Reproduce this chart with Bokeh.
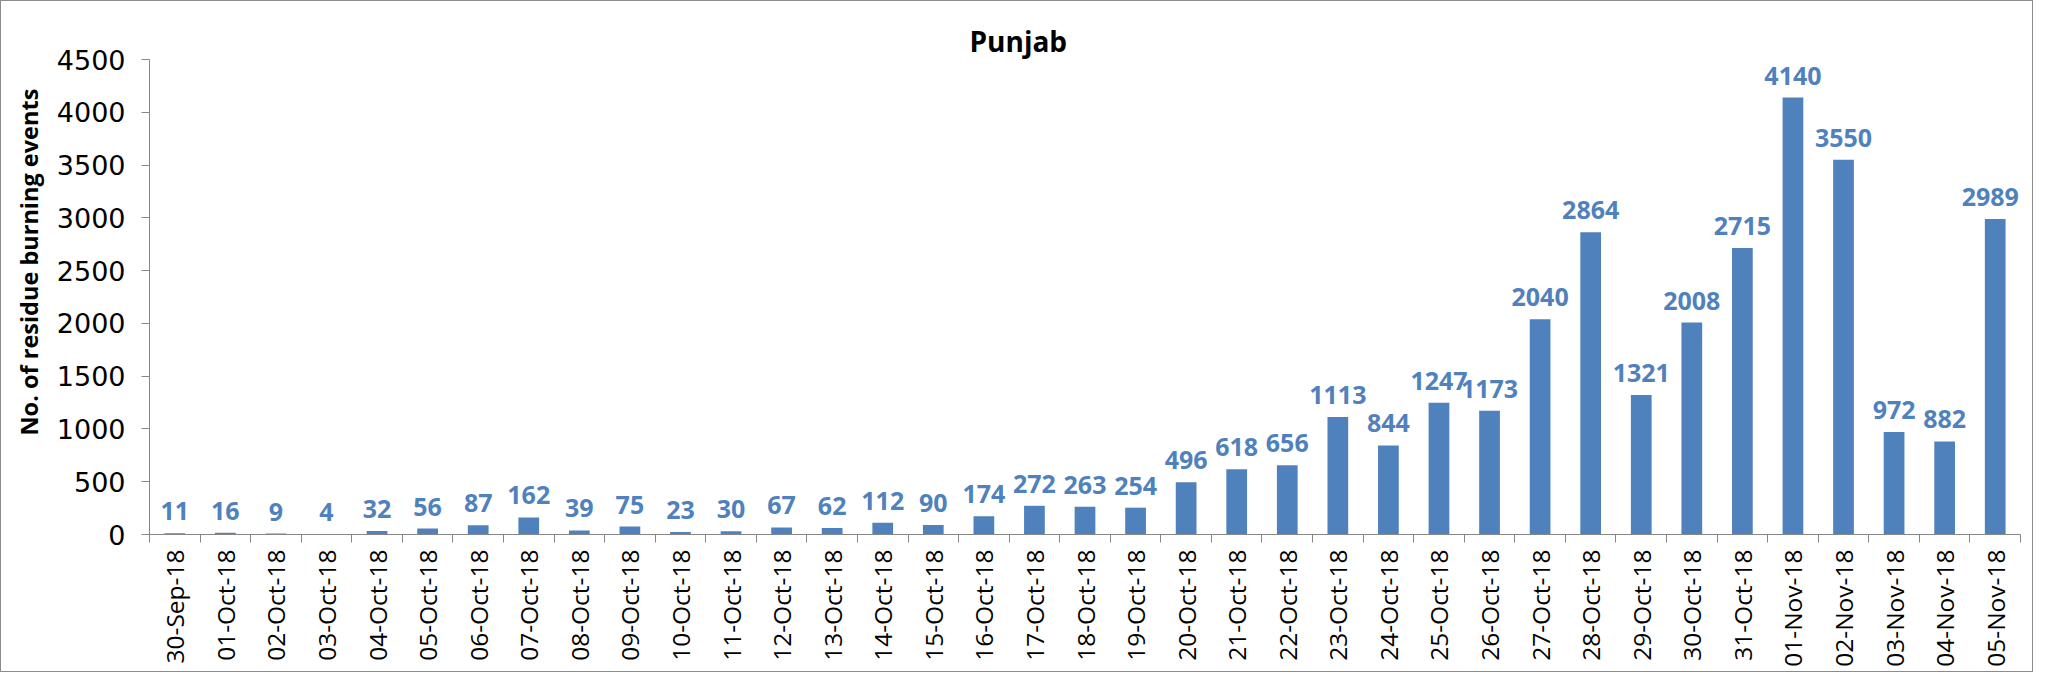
from bokeh.plotting import figure
from bokeh.models import (FactorRange, Range1d, LinearAxis, CategoricalAxis, FixedTicker,
                          ColumnDataSource, Title)
from bokeh.core.properties import value
from bokeh.embed import file_html
from bokeh.resources import INLINE
import math

dates = ["30-Sep-18", "01-Oct-18", "02-Oct-18", "03-Oct-18", "04-Oct-18", "05-Oct-18",
         "06-Oct-18", "07-Oct-18", "08-Oct-18", "09-Oct-18", "10-Oct-18", "11-Oct-18",
         "12-Oct-18", "13-Oct-18", "14-Oct-18", "15-Oct-18", "16-Oct-18", "17-Oct-18",
         "18-Oct-18", "19-Oct-18", "20-Oct-18", "21-Oct-18", "22-Oct-18", "23-Oct-18",
         "24-Oct-18", "25-Oct-18", "26-Oct-18", "27-Oct-18", "28-Oct-18", "29-Oct-18",
         "30-Oct-18", "31-Oct-18", "01-Nov-18", "02-Nov-18", "03-Nov-18", "04-Nov-18",
         "05-Nov-18"]
events = [11, 16, 9, 4, 32, 56, 87, 162, 39, 75, 23, 30, 67, 62, 112, 90, 174, 272,
          263, 254, 496, 618, 656, 1113, 844, 1247, 1173, 2040, 2864, 1321, 2008, 2715,
          4140, 3550, 972, 882, 2989]
y_ticks = [0, 500, 1000, 1500, 2000, 2500, 3000, 3500, 4000, 4500]
chart_title = "Punjab"
y_title = "No. of residue burning events"

BAR = "#4f81bd"
FONT = "Open Sans"
NUMFONT = "DejaVu Sans"

# keep the last value label inside the plotting frame
label_shift = [0] * (len(dates) - 1) + [-5]

src = ColumnDataSource(dict(date=dates, val=events, lab=[str(v) for v in events],
                            dx=label_shift))

p = figure(width=2033, height=672, output_backend="svg", toolbar_location=None,
           x_range=FactorRange(factors=dates, range_padding=0),
           y_range=Range1d(0, y_ticks[-1]),
           x_axis_location=None, y_axis_location=None,
           min_border_left=141, min_border_right=14, min_border_top=58,
           min_border_bottom=139)
p.title = None
p.outline_line_color = None
p.grid.visible = False
p.styles = {"border": "1px solid #8c8c8c"}

# chart title
p.add_layout(Title(text=chart_title, align="left", offset=820, standoff=0,
                   text_font=FONT, text_font_style="bold", text_font_size="28px",
                   text_color="#000000"), "above")

# y axis
yax = LinearAxis(ticker=FixedTicker(ticks=y_ticks))
yax.axis_line_color = "#868686"
yax.major_tick_line_color = "#868686"
yax.major_tick_out = 8
yax.major_tick_in = 0
yax.minor_tick_line_color = None
yax.major_label_standoff = 16
yax.major_label_text_font = NUMFONT
yax.major_label_text_font_size = "27px"
yax.major_label_text_color = "#000000"
p.add_layout(yax, "left")

p.add_layout(Title(text=y_title, align="left", offset=99, standoff=18,
                   text_font=FONT, text_font_style="bold", text_font_size="23.5px",
                   text_color="#000000"), "left")

# x axis: tick marks at category edges (minor ticks only, no labels)
xtick = LinearAxis(ticker=FixedTicker(ticks=[], minor_ticks=list(range(len(dates) + 1))))
xtick.axis_line_color = "#868686"
xtick.major_tick_line_color = None
xtick.minor_tick_line_color = "#868686"
xtick.minor_tick_out = 8
xtick.minor_tick_in = 0
xtick.major_label_standoff = 0
p.add_layout(xtick, "below")

xlab = CategoricalAxis()
xlab.axis_line_color = None
xlab.major_tick_line_color = None
xlab.minor_tick_line_color = None
xlab.major_tick_out = 0
xlab.major_label_orientation = math.pi / 2
xlab.major_label_standoff = 7
xlab.major_label_text_font = FONT
xlab.major_label_text_font_size = "24.5px"
xlab.major_label_text_color = "#000000"
p.add_layout(xlab, "below")

p.vbar(x="date", top="val", width=0.41, source=src, fill_color=BAR, line_color=None)
p.text(x="date", y="val", text="lab", source=src, x_offset="dx", y_offset=-22,
       text_align="center", text_baseline="alphabetic",
       text_font=value(FONT), text_font_style="bold", text_font_size="25px",
       text_color=BAR)

open("out.html", "w").write(file_html(p, INLINE))
